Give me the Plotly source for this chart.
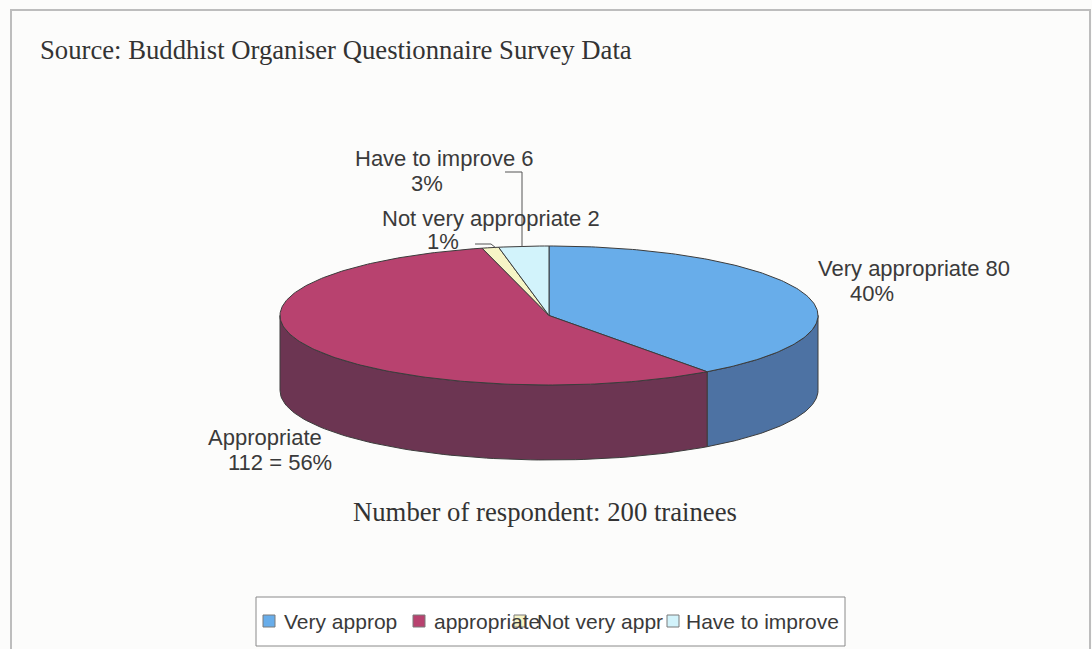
import numpy as np
import plotly.graph_objects as go

# ---- data ----
categories = ["Very appropriate", "Appropriate", "Not very appropriate", "Have to improve"]
legend_names = ["Very approp", "appropriate", "Not very appr", "Have to improve"]
counts = [80, 112, 2, 6]
percents = [40, 56, 1, 3]
top_colors = ["#68ADEA", "#B8426F", "#F6F4C6", "#D2F3FB"]
side_colors = ["#4D72A3", "#6C3552", "#B8B690", "#9CC0C8"]

W, H = 1092, 649
# pie geometry (pixels)
cx, cy, a, b, depth = 549, 315.5, 269, 69.5, 75
# legend layout (pixels): swatch left edges, text left edges
leg_sw_x = [263, 413, 514, 667]
leg_tx_x = [282, 432, 535, 684]
leg_y = 621

total = float(sum(counts))
fig = go.Figure()

def pt(theta_deg, dy=0.0):
    t = np.radians(theta_deg)
    return cx + a * np.sin(t), cy - b * np.cos(t) + dy

starts = []
acc = 0.0
for v in counts:
    starts.append(acc)
    acc += v / total * 360.0

# side faces (visible front half: theta in [90, 270])
for i, v in enumerate(counts):
    s = starts[i]
    e = s + v / total * 360.0
    lo, hi = max(s, 90.0), min(e, 270.0)
    if hi <= lo:
        continue
    th = np.linspace(lo, hi, 80)
    xt, yt = pt(th)
    xb, yb = pt(th[::-1], depth)
    xs = np.concatenate([xt, xb, xt[:1]])
    ys = np.concatenate([yt, yb, yt[:1]])
    fig.add_trace(go.Scatter(x=xs, y=ys, fill="toself", mode="lines",
                             fillcolor=side_colors[i],
                             line=dict(color="#3c3c3c", width=1),
                             showlegend=False, hoverinfo="skip"))

# top faces
for i, v in enumerate(counts):
    s = starts[i]
    e = s + v / total * 360.0
    th = np.linspace(s, e, max(int(v / total * 400), 4))
    xt, yt = pt(th)
    xs = np.concatenate([[cx], xt, [cx]])
    ys = np.concatenate([[cy], yt, [cy]])
    fig.add_trace(go.Scatter(x=xs, y=ys, fill="toself", mode="lines",
                             fillcolor=top_colors[i],
                             line=dict(color="#3c3c3c", width=1),
                             name=legend_names[i], showlegend=False,
                             hovertext=f"{categories[i]}: {counts[i]} ({percents[i]}%)",
                             hoverinfo="text"))

lab_font = dict(family="Liberation Sans, Arial, sans-serif", size=22, color="#3a3a3a")
leg_font = dict(family="Liberation Sans, Arial, sans-serif", size=21, color="#3a3a3a")
serif = dict(family="Liberation Serif, Times New Roman, serif", size=26.7, color="#333333")

annotations = [
    dict(x=38, y=50, text="Source: Buddhist Organiser Questionnaire Survey Data",
         xanchor="left", yanchor="middle", font=serif),
    dict(x=545, y=512, text="Number of respondent: 200 trainees",
         xanchor="center", yanchor="middle", font=serif),
    dict(x=816, y=268, text=f"{categories[0]} {counts[0]}", xanchor="left", yanchor="middle", font=lab_font),
    dict(x=872, y=293, text=f"{percents[0]}%", xanchor="center", yanchor="middle", font=lab_font),
    dict(x=206, y=437, text=f"{categories[1]}", xanchor="left", yanchor="middle", font=lab_font),
    dict(x=226, y=462, text=f"{counts[1]} = {percents[1]}%", xanchor="left", yanchor="middle", font=lab_font),
    dict(x=380, y=218, text=f"{categories[2]} {counts[2]}", xanchor="left", yanchor="middle", font=lab_font),
    dict(x=443, y=241, text=f"{percents[2]}%", xanchor="center", yanchor="middle", font=lab_font),
    dict(x=353, y=158, text=f"{categories[3]} {counts[3]}", xanchor="left", yanchor="middle", font=lab_font),
    dict(x=427, y=183, text=f"{percents[3]}%", xanchor="center", yanchor="middle", font=lab_font),
]

shapes = [
    dict(type="rect", xref="x", yref="y", x0=11, y0=10, x1=1090, y1=700,
         line=dict(color="#BDBDBD", width=2), layer="below"),
    # leader lines
    dict(type="path", xref="x", yref="y", path="M 505 172 L 522 172 L 522 247",
         line=dict(color="#555555", width=1)),
    dict(type="path", xref="x", yref="y", path="M 475 244 L 491 244 L 496 248",
         line=dict(color="#555555", width=1)),
    # legend box
    dict(type="rect", xref="x", yref="y", x0=256, y0=597, x1=845, y1=646,
         line=dict(color="#8a8a8a", width=1), fillcolor="#FFFFFF", layer="below"),
]

# legend entries: text first, then swatches on top (as in the original)
for i, name in enumerate(legend_names):
    annotations.append(dict(x=leg_tx_x[i], y=leg_y, text=name, xanchor="left",
                            yanchor="middle", font=leg_font))
for i, name in enumerate(legend_names):
    shapes.append(dict(type="rect", xref="x", yref="y",
                       x0=leg_sw_x[i], x1=leg_sw_x[i] + 12,
                       y0=leg_y - 6, y1=leg_y + 6,
                       fillcolor=top_colors[i], line=dict(color="#7a7a7a", width=1),
                       layer="above"))

for an in annotations:
    an.update(xref="x", yref="y", showarrow=False)

fig.update_layout(
    width=W, height=H,
    margin=dict(l=0, r=0, t=0, b=0),
    paper_bgcolor="#FCFCFB", plot_bgcolor="#FCFCFB",
    xaxis=dict(range=[0, W], visible=False, fixedrange=True),
    yaxis=dict(range=[H, 0], visible=False, fixedrange=True),
    annotations=annotations,
    shapes=shapes,
    showlegend=False,
)

fig.write_html("out.html", config={"displayModeBar": False},
               post_script="document.body.style.margin='0';")
